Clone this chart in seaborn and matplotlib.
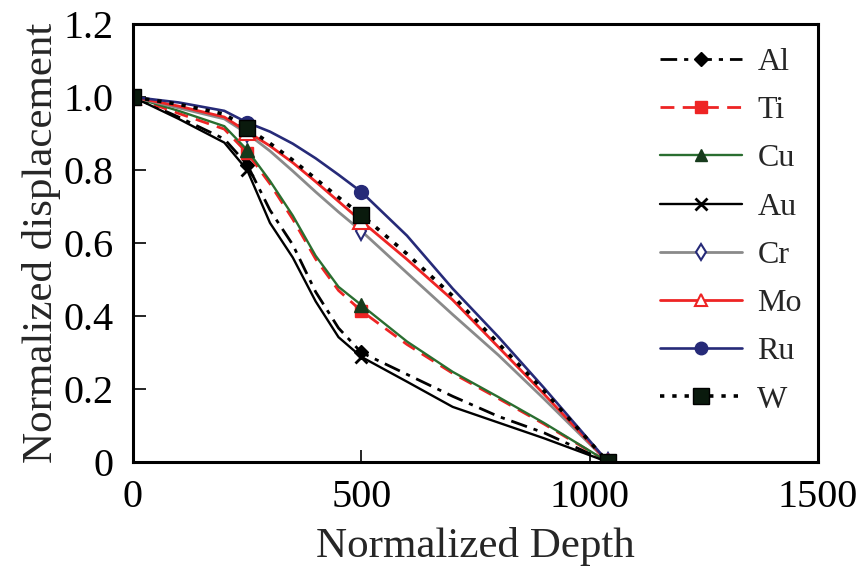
import matplotlib
matplotlib.use("Agg")
import matplotlib.pyplot as plt
from matplotlib.lines import Line2D
import seaborn as sns
import pandas as pd

# Normalized depth positions along each profile
depth = [0, 100, 200, 250, 300, 350, 400, 450, 500, 600, 700, 800, 900, 1040]
marker_idx = [0, 3, 8, 13]  # measured points carrying a symbol

al = [1.0, 0.945, 0.885, 0.815, 0.69, 0.595, 0.466, 0.367, 0.30, 0.24, 0.18, 0.125, 0.08, 0.0]
ti = [1.0, 0.955, 0.912, 0.847, 0.762, 0.665, 0.556, 0.47, 0.414, 0.322, 0.243, 0.174, 0.104, 0.0]
cu = [1.0, 0.962, 0.92, 0.855, 0.77, 0.675, 0.565, 0.48, 0.43, 0.33, 0.247, 0.178, 0.107, 0.0]
au = [1.0, 0.94, 0.875, 0.80, 0.655, 0.56, 0.44, 0.342, 0.288, 0.22, 0.151, 0.108, 0.065, 0.0]
cr = [1.0, 0.97, 0.94, 0.90, 0.852, 0.797, 0.74, 0.685, 0.633, 0.518, 0.404, 0.293, 0.173, 0.0]
mo = [1.0, 0.975, 0.945, 0.905, 0.866, 0.82, 0.768, 0.714, 0.66, 0.555, 0.444, 0.315, 0.186, 0.0]
ru = [1.0, 0.985, 0.962, 0.93, 0.905, 0.872, 0.832, 0.787, 0.74, 0.62, 0.475, 0.343, 0.203, 0.0]
w = [1.0, 0.98, 0.953, 0.915, 0.873, 0.827, 0.776, 0.725, 0.677, 0.57, 0.455, 0.325, 0.195, 0.0]

labels = ["Al", "Ti", "Cu", "Au", "Cr", "Mo", "Ru", "W"]
series = [al, ti, cu, au, cr, mo, ru, w]

x_ticks = [0, 500, 1000, 1500]
y_ticks = [0, 0.2, 0.4, 0.6, 0.8, 1.0, 1.2]
y_tick_labels = ["0", "0.2", "0.4", "0.6", "0.8", "1.0", "1.2"]

sns.set_style("ticks")
plt.rcParams["font.family"] = ["Liberation Serif", "DejaVu Serif"]

navy = "#262a78"
red = "#ee2424"
dkgreen = "#173b1c"
green = "#2a6e30"
gray = "#8a8a8a"

styles = {
    "Al": dict(color="black", ls=(0, (6, 2.5, 1.5, 2.5)), lw=2.0, marker="D", ms=7,
               mfc="black", mec="black", lms=7),
    "Ti": dict(color=red, ls=(0, (5, 3)), lw=2.0, marker="s", ms=9,
               mfc=red, mec=red, lms=9),
    "Cu": dict(color=green, ls="-", lw=1.7, marker="^", ms=10,
               mfc=dkgreen, mec=dkgreen, lms=9),
    "Au": dict(color="black", ls="-", lw=1.7, marker="x", ms=9, mew=2,
               mfc="black", mec="black", lms=8),
    "Cr": dict(color=gray, ls="-", lw=2.0, marker="d", ms=9, mew=1.5,
               mfc="white", mec=navy, lms=8),
    "Mo": dict(color=red, ls="-", lw=2.0, marker="^", ms=11, mew=1.5,
               mfc="white", mec=red, lms=9),
    "Ru": dict(color=navy, ls="-", lw=1.9, marker="o", ms=10,
               mfc=navy, mec=navy, lms=9),
    "W": dict(color="black", ls=(0, (1.2, 2.2)), lw=2.6, marker="s", ms=11,
              mfc="#0a1a0d", mec="black", lms=11),
}

fig = plt.figure(figsize=(8.59, 5.67), dpi=100)
ax = fig.add_axes([0.1548, 0.1852, 0.7975, 0.7725])

handles = []
for name, vals in zip(labels, series):
    st = styles[name]
    df = pd.DataFrame({"depth": depth, "disp": vals})
    sns.lineplot(data=df, x="depth", y="disp", ax=ax, color=st["color"],
                 linestyle=st["ls"], linewidth=st["lw"], marker=st["marker"],
                 markersize=st["ms"], markerfacecolor=st["mfc"],
                 markeredgecolor=st["mec"], markeredgewidth=st.get("mew", 1.0),
                 markevery=marker_idx, sort=False, legend=False)
    handles.append(Line2D([], [], color=st["color"], linestyle=st["ls"],
                          linewidth=st["lw"], marker=st["marker"],
                          markersize=st["lms"], markerfacecolor=st["mfc"],
                          markeredgecolor=st["mec"],
                          markeredgewidth=st.get("mew", 1.0), label=name))

ax.set_xlim(0, 1500)
ax.set_ylim(0, 1.2)
ax.set_xticks(x_ticks)
ax.set_yticks(y_ticks)
ax.set_yticklabels(y_tick_labels)
ax.tick_params(axis="both", direction="in", length=9, width=1.2,
               labelsize=29, colors="black")
ax.tick_params(axis="x", pad=12)
ax.tick_params(axis="y", pad=14)
for sp in ax.spines.values():
    sp.set_visible(True)
    sp.set_linewidth(2.2)
    sp.set_color("black")

ax.set_xlabel("Normalized Depth", fontsize=31, labelpad=8)
ax.set_ylabel("Normalized displacement", fontsize=31, labelpad=2)

leg = ax.legend(handles=handles, loc="upper left", bbox_to_anchor=(0.751, 0.975),
                frameon=False, fontsize=23, handlelength=2.57, handletextpad=0.47,
                labelspacing=0.59, borderaxespad=0)

fig.savefig("out.png", dpi=100)
